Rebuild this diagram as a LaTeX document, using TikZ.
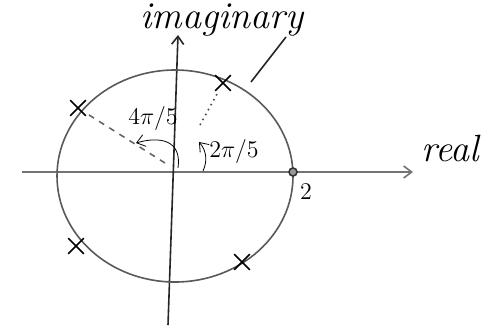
\documentclass[tikz,border=0pt]{standalone}
\usepackage{amsmath}
\usetikzlibrary{positioning,shapes.misc,arrows.meta}

\tikzset{
    root/.style={cross out, draw=black, thick, minimum size=7pt, inner sep=0pt},
    hand/.style={font=\fontsize{19}{22}\selectfont\itshape}
}

\begin{document}
\begin{tikzpicture}[x=0.5pt, y=-0.5pt, >={Straight Barb[length=4pt, width=6pt]}, thick]
    \useasboundingbox (0,0) rectangle (491,328);

    % Axes
    \coordinate (o) at (172,172);
    \coordinate (left) at (22,172);
    \coordinate (right) at (413,172);
    \coordinate (bottom) at (168,325);
    \coordinate (top) at (178,35);
    \draw[->, black!55] (left) -- (right);
    \draw[->, black!85] (bottom) -- (top);
    \node[hand] (imag) at (222,20) {imaginary};
    \node[hand] (real) at (450,148) {real};

    % Circle
    \draw[black!65] (175,176) ellipse [x radius=118, y radius=106];

    % Roots
    \node[circle, draw=black!80, fill=black!40, minimum size=4pt, inner sep=0pt] (r0) at (293,172) {};
    \node[font=\large] (two) at (306,192) {$2$};
    \node[root] (r1) at (223,83) {};
    \node[root] (r2) at (78,108) {};
    \node[root] (r3) at (76,246) {};
    \node[root] (r4) at (242,262) {};

    % Angle lines
    \coordinate (d1) at (200,125);
    \coordinate (d2) at (165,163);
    \draw[dotted, black!70] (d1) -- (r1);
    \draw[dashed, black!60] (d2) -- (r2);

    % Angle arrows
    \coordinate (a1) at (203,171);
    \coordinate (a1e) at (199,142);
    \coordinate (a2) at (178,168);
    \coordinate (a2e) at (136,143);
    \draw[->, thin] (a1) .. controls (208,160) and (206,150) .. (a1e);
    \draw[->, thin] (a2) .. controls (182,140) and (160,136) .. (a2e);
    \node[font=\large] (ang1) at (234,151) {$2\pi/5$};
    \node[font=\large] (ang2) at (153,118) {$4\pi/5$};

    % Pointer
    \coordinate (p1) at (251,82);
    \coordinate (p2) at (286,37);
    \draw[black!85] (p1) -- (p2);
\end{tikzpicture}
\end{document}
